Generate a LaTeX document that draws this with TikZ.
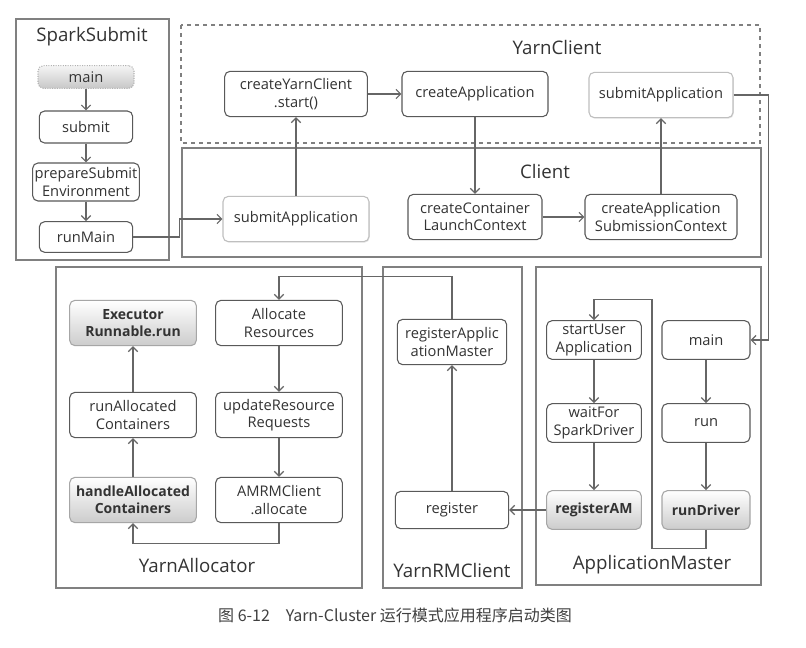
\documentclass[tikz,border=0pt]{standalone}
\usepackage{fontspec}
\setmainfont{Open Sans}
\newfontfamily\cjkfont{Noto Sans CJK SC}
\usetikzlibrary{arrows,arrows.meta,shadows,calc,positioning}
\tikzstyle{box}=[rectangle,rounded corners=4pt,draw=black!65,line width=0.8pt,fill=white,align=center,inner sep=0pt,text=black!80,font=\fontsize{11}{13}\selectfont]
\tikzstyle{greybox}=[box,draw=black!35,top color=white,bottom color=black!20,font=\fontsize{10.5}{13}\selectfont\bfseries]
\tikzstyle{softbox}=[box,draw=black!25,drop shadow={opacity=0.2,shadow xshift=0.6pt,shadow yshift=-0.8pt}]
\tikzstyle{dotbox}=[box,draw=black!30,densely dotted,top color=black!4,bottom color=black!22]
\tikzstyle{frame}=[draw=black!50,line width=0.8pt]
\tikzstyle{title}=[font=\fontsize{14}{16}\selectfont,text=black!80]
\tikzstyle{flow}=[-{Straight Barb[length=3.5pt,width=7pt]},draw=black!60,line width=0.9pt]

\begin{document}
\begin{tikzpicture}[x=0.75pt,y=-0.75pt]

   \useasboundingbox[fill=white] (0,0) rectangle (806,647);

%  frames
   \draw[frame] (16,19) rectangle (169,260);
   \draw[frame,dashed] (181,25) rectangle (760,143);
   \draw[frame] (182,148) rectangle (761,257);
   \draw[frame] (56,267) rectangle (362,588);
   \draw[frame] (383,267) rectangle (522,588);
   \draw[frame] (536,267) rectangle (761,585);

   \node[title] (tSpark) at (92,37) {SparkSubmit};
   \node[title] (tYarnClient) at (557,47) {YarnClient};
   \node[title] (tClient) at (545,171) {Client};
   \node[title] (tAlloc) at (197,565) {YarnAllocator};
   \node[title] (tRM) at (452,570) {YarnRMClient};
   \node[title] (tAM) at (652,565) {ApplicationMaster};

%  SparkSubmit
    \foreach \pos/\name/\sty/\bw/\bh/\txt in {{(86,77)/ssMain/dotbox/72pt/17pt/main}, {(86,127)/ssSubmit/box/70pt/24pt/submit}, {(86,182)/ssPrepare/box/80pt/28.5pt/{prepareSubmit\\Environment}}, {(86,237)/ssRunMain/box/70pt/23pt/runMain}}
        \node[\sty,minimum width=\bw,minimum height=\bh] (\name) at \pos {\txt};

%  YarnClient and Client
    \foreach \pos/\name/\sty/\bw/\txt in {{(296,94)/yStart/box/107pt/{createYarnClient\\.start()}}, {(475,94)/yCreateApp/box/109.5pt/createApplication}, {(661,95)/ySubmit/softbox/108pt/submitApplication}, {(296,219)/cSubmit/softbox/109.5pt/submitApplication}, {(475,217)/cLaunch/box/100.5pt/{createContainer\\LaunchContext}}, {(661,217)/cSubCtx/box/114pt/{createApplication\\SubmissionContext}}}
        \node[\sty,minimum width=\bw,minimum height=34pt] (\name) at \pos {\txt};

%  YarnAllocator
    \foreach \pos/\name/\sty/\txt in {{(133,323)/alExec/greybox/{Executor\\Runnable.run}}, {(279,323)/alAlloc/box/{Allocate\\Resources}}, {(133,415)/alRunAlloc/box/{runAllocated\\Containers}}, {(279,415)/alUpdate/box/{updateResource\\Requests}}, {(133,500)/alHandle/greybox/{handleAllocated\\Containers}}, {(279,500)/alAMRM/box/{AMRMClient\\.allocate}}}
        \node[\sty,minimum width=95pt,minimum height=34pt] (\name) at \pos {\txt};

%  YarnRMClient
    \node[box,minimum width=82pt,minimum height=34pt] (rmRegAM) at (452,342) {registerApplic\\ationMaster};
    \node[box,minimum width=85pt,minimum height=28pt] (rmRegister) at (452,510) {register};

%  ApplicationMaster
    \foreach \pos/\name/\sty/\bw/\txt in {{(594,340)/amStart/box/71pt/{startUser\\Application}}, {(706,340)/amMain/box/66pt/main}, {(594,423)/amWait/box/71pt/{waitFor\\SparkDriver}}, {(706,423)/amRun/box/66pt/run}, {(594,510)/amRegAM/greybox/71pt/registerAM}, {(706,510)/amDriver/greybox/66pt/runDriver}}
        \node[\sty,minimum width=\bw,minimum height=29pt] (\name) at \pos {\txt};

%  connectors
    \foreach \source/\dest in {ssMain/ssSubmit, ssSubmit/ssPrepare, ssPrepare/ssRunMain, cSubmit/yStart, yCreateApp/cLaunch, cSubCtx/ySubmit, amMain/amRun, amRun/amDriver, amStart/amWait, amWait/amRegAM, rmRegister/rmRegAM, alAlloc/alUpdate, alUpdate/alAMRM, alHandle/alRunAlloc, alRunAlloc/alExec}
        \draw[flow] (\source) -- (\dest);
    \draw[flow] (yStart) -- (yCreateApp);
    \draw[flow] (cLaunch) -- (cSubCtx);
    \draw[flow] (amRegAM) -- (rmRegister);

    \draw[flow] (ssRunMain.east) -- ++(46,0) |- (cSubmit.west);
    \draw[flow] (ySubmit.east) -- ++(35,0) |- (amMain.east);
    \draw[flow] (amDriver.south) -- ++(0,19) -- ++(-54,0) -- ++(0,-249) -| (amStart.north);
    \draw[flow] (rmRegAM.north) -- ++(0,-42) -| (alAlloc.north);
    \draw[flow] (alAMRM.south) -- ++(0,20) -| (alHandle.south);

  \node[font=\cjkfont\fontsize{12}{14}\selectfont,text=black!75] (caption) at (395,615) {图 6-12\quad Yarn-Cluster 运行模式应用程序启动类图};

\end{tikzpicture}
\end{document}
